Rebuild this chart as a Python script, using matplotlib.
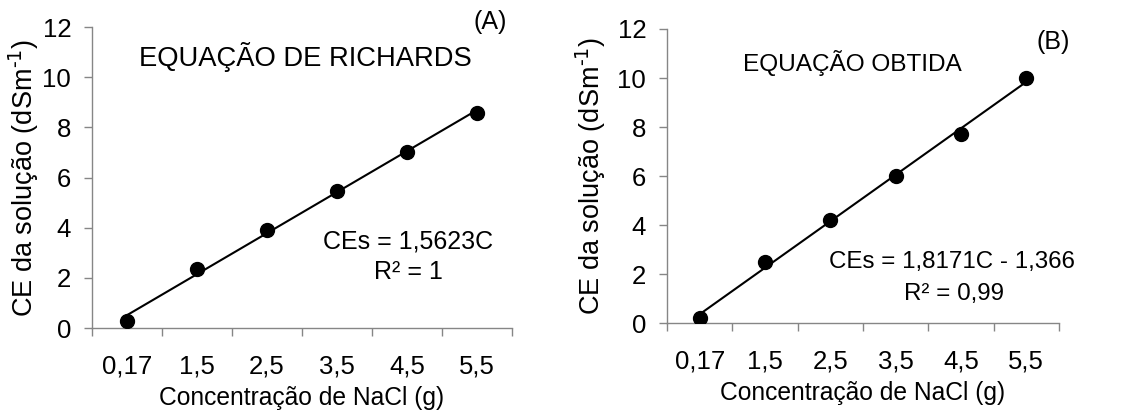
import matplotlib
matplotlib.use("Agg")
import matplotlib.pyplot as plt
import numpy as np

plt.rcParams['font.family'] = ['Liberation Sans', 'DejaVu Sans']

categories = ["0,17", "1,5", "2,5", "3,5", "4,5", "5,5"]
ce_richards = [0.27, 2.34, 3.9, 5.47, 7.03, 8.59]
ce_obtida = [0.2, 2.5, 4.2, 6.0, 7.7, 10.0]

W, H = 1127, 411
fig = plt.figure(figsize=(W / 100, H / 100), dpi=100)


def rect(l, t, r, b):
    return [l / W, 1 - b / H, (r - l) / W, (b - t) / H]


def fp(x, y):
    return x / W, 1 - y / H


gray = '#868686'


def panel(l, t, r, b, yvals, ylab_x, xlab_top):
    ax = fig.add_axes(rect(l, t, r, b))
    x = np.arange(1, len(categories) + 1)
    coef = np.polyfit(x, yvals, 1)
    ax.plot([x[0], x[-1]], np.polyval(coef, [x[0], x[-1]]), color='black', lw=1.5, zorder=2)
    ax.plot(x, yvals, 'o', color='black', ms=10, zorder=3)
    ax.set_xlim(0.5, len(categories) + 0.5)
    ax.set_ylim(0, 12)
    ax.set_yticks(range(0, 13, 2))
    ax.set_xticks(x)
    ax.set_xticklabels(categories)
    ax.set_xticks(np.arange(0.5, len(categories) + 1, 1), minor=True)
    ax.tick_params(axis='x', which='major', length=0, pad=19, labelsize=18.5)
    ax.tick_params(axis='x', which='minor', length=6, color=gray, width=1)
    ax.tick_params(axis='y', length=6, color=gray, width=1, pad=9, labelsize=18.5)
    for s in ['top', 'right']:
        ax.spines[s].set_visible(False)
    for s in ['left', 'bottom']:
        ax.spines[s].set_color(gray)
        ax.spines[s].set_linewidth(1)
    ax.set_xlabel('Concentração de NaCl (g)', fontsize=17.7)
    ax.set_ylabel('CE da solução (dSm$^{\\text{-1}}$)', fontsize=19.5)
    ax.yaxis.set_label_coords((ylab_x - l) / (r - l), 0.5)
    ax.xaxis.set_label_coords(0.5, (b - xlab_top) / (b - t))
    return ax


axA = panel(92, 27, 512, 328, ce_richards, 41, 386)
axB = panel(667, 29, 1059, 323, ce_obtida, 608, 381)

fig.text(*fp(490, 22), '(A)', fontsize=18, ha='center', va='center')
fig.text(*fp(305, 57), 'EQUAÇÃO DE RICHARDS', fontsize=19.7, ha='center', va='center')
fig.text(*fp(408, 241), 'CEs = 1,5623C', fontsize=18, ha='center', va='center')
fig.text(*fp(408, 272), 'R² = 1', fontsize=18, ha='center', va='center')

fig.text(*fp(1053, 42), '(B)', fontsize=18, ha='center', va='center')
fig.text(*fp(852, 63), 'EQUAÇÃO OBTIDA', fontsize=17.6, ha='center', va='center')
fig.text(*fp(952, 262), 'CEs = 1,8171C - 1,366', fontsize=17.4, ha='center', va='center')
fig.text(*fp(954, 294), 'R² = 0,99', fontsize=17.4, ha='center', va='center')

fig.savefig('out.png', dpi=100)
